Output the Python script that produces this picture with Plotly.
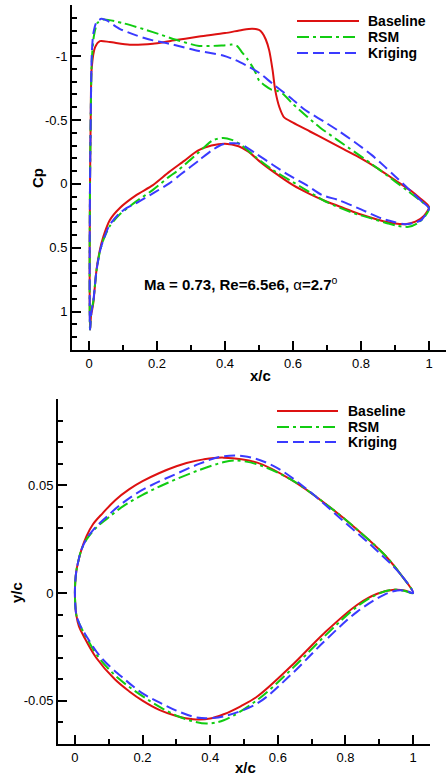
import plotly.graph_objects as go

# ---------------- data: Cp distributions (ordered TE-upper -> LE -> TE-lower)
base_cp_x = [1.0, 0.97, 0.95, 0.9, 0.85, 0.8, 0.75, 0.7, 0.65, 0.6, 0.574, 0.56, 0.548, 0.54, 0.53, 0.52, 0.51, 0.5, 0.48, 0.45, 0.4, 0.324, 0.236, 0.188, 0.12, 0.061, 0.032, 0.018, 0.008, 0.005, 0.003, 0.002, 0.002, 0.003,
             0.006, 0.009, 0.0126, 0.022, 0.032, 0.042, 0.061, 0.09, 0.139, 0.188, 0.236, 0.28, 0.32, 0.36, 0.4, 0.44, 0.47, 0.5, 0.55, 0.6, 0.65, 0.7, 0.75, 0.8, 0.85, 0.9, 0.93, 0.96, 0.985, 1.0]
base_cp = [0.18, 0.105, 0.06, -0.03, -0.12, -0.2, -0.27, -0.34, -0.41, -0.48, -0.52, -0.6, -0.73, -0.89, -1.045, -1.13, -1.18, -1.205, -1.215, -1.205, -1.18, -1.154, -1.117, -1.097, -1.089, -1.11, -1.117, -1.07, -0.91, -0.5, 0.0, 0.5, 0.9, 1.14,
           1.03, 0.99, 0.934, 0.674, 0.518, 0.414, 0.284, 0.19, 0.088, 0.01, -0.094, -0.18, -0.26, -0.3, -0.315, -0.295, -0.25, -0.18, -0.08, 0.01, 0.08, 0.14, 0.19, 0.24, 0.28, 0.31, 0.315, 0.295, 0.25, 0.18]

rsm_cp_x = [1.0, 0.97, 0.94, 0.9, 0.88, 0.83, 0.78, 0.73, 0.68, 0.64, 0.6, 0.57, 0.555, 0.535, 0.52, 0.5, 0.49, 0.48, 0.465, 0.45, 0.435, 0.42, 0.394, 0.324, 0.256, 0.188, 0.1, 0.042, 0.025, 0.014, 0.008, 0.005, 0.003, 0.002, 0.002, 0.003,
            0.006, 0.009, 0.0126, 0.022, 0.032, 0.042, 0.061, 0.09, 0.139, 0.188, 0.236, 0.256, 0.29, 0.324, 0.363, 0.394, 0.42, 0.45, 0.49, 0.54, 0.59, 0.64, 0.69, 0.74, 0.78, 0.83, 0.88, 0.91, 0.94, 0.965, 0.987, 1.0]
rsm_cp = [0.19, 0.122, 0.06, -0.02, -0.06, -0.158, -0.252, -0.345, -0.44, -0.53, -0.625, -0.705, -0.727, -0.74, -0.765, -0.81, -0.87, -0.92, -0.98, -1.03, -1.08, -1.09, -1.084, -1.08, -1.128, -1.188, -1.258, -1.287, -1.26, -1.15, -0.95, -0.5, 0.0, 0.5, 0.9, 1.14,
          1.03, 0.97, 0.92, 0.68, 0.53, 0.44, 0.33, 0.24, 0.137, 0.047, -0.057, -0.094, -0.17, -0.25, -0.34, -0.36, -0.345, -0.3, -0.21, -0.11, -0.03, 0.05, 0.13, 0.19, 0.23, 0.27, 0.31, 0.33, 0.336, 0.31, 0.258, 0.19]

krg_cp_x = [1.0, 0.98, 0.958, 0.93, 0.9, 0.87, 0.832, 0.78, 0.734, 0.69, 0.637, 0.59, 0.54, 0.5, 0.472, 0.43, 0.394, 0.324, 0.236, 0.188, 0.139, 0.09, 0.052, 0.037, 0.022, 0.0126, 0.008, 0.005, 0.003, 0.002, 0.002, 0.003,
            0.006, 0.009, 0.0126, 0.022, 0.032, 0.042, 0.061, 0.09, 0.11, 0.139, 0.188, 0.236, 0.27, 0.324, 0.36, 0.394, 0.443, 0.491, 0.54, 0.588, 0.64, 0.686, 0.734, 0.8, 0.86, 0.9, 0.929, 0.955, 0.977, 0.99, 1.0]
krg_cp = [0.19, 0.14, 0.085, 0.015, -0.06, -0.135, -0.225, -0.33, -0.415, -0.49, -0.576, -0.68, -0.784, -0.87, -0.914, -0.97, -1.005, -1.04, -1.097, -1.123, -1.162, -1.214, -1.279, -1.292, -1.266, -1.175, -1.0, -0.5, 0.0, 0.5, 0.9, 1.14,
          1.03, 0.97, 0.92, 0.68, 0.53, 0.44, 0.32, 0.23, 0.19, 0.15, 0.074, -0.004, -0.075, -0.185, -0.26, -0.31, -0.315, -0.237, -0.15, -0.068, 0.01, 0.088, 0.127, 0.2, 0.27, 0.3, 0.315, 0.305, 0.284, 0.24, 0.19]

# ---------------- data: airfoil geometry (TE-upper -> LE -> TE-lower)
base_xc = [1.0, 0.964, 0.914, 0.835, 0.737, 0.638, 0.539, 0.44, 0.38, 0.33, 0.3, 0.25, 0.2, 0.16, 0.12, 0.083, 0.053, 0.034, 0.019, 0.009, 0.004, 0.001, 0.0,
           0.001, 0.004, 0.012, 0.026, 0.063, 0.118, 0.16, 0.201, 0.251, 0.3, 0.349, 0.4, 0.44, 0.49, 0.539, 0.638, 0.737, 0.835, 0.894, 0.944, 0.975, 1.0]
base_yc = [0.0, 0.0085, 0.018, 0.0294, 0.0419, 0.0527, 0.0605, 0.0628, 0.062, 0.0603, 0.0588, 0.0557, 0.0519, 0.0481, 0.0432, 0.0372, 0.0318, 0.0263, 0.02, 0.014, 0.01, 0.005, 0.0,
           -0.005, -0.01, -0.0155, -0.02, -0.03, -0.04, -0.0455, -0.05, -0.0543, -0.057, -0.0585, -0.0582, -0.0562, -0.0525, -0.048, -0.0341, -0.0186, -0.0054, -0.0003, 0.0015, 0.0012, 0.0]

rsm_xc = [1.0, 0.964, 0.914, 0.835, 0.737, 0.638, 0.539, 0.47, 0.43, 0.37, 0.27, 0.2, 0.142, 0.095, 0.061, 0.035, 0.019, 0.009, 0.004, 0.001, 0.0,
          0.001, 0.004, 0.014, 0.032, 0.071, 0.132, 0.221, 0.27, 0.31, 0.35, 0.39, 0.44, 0.539, 0.638, 0.737, 0.835, 0.894, 0.934, 0.97, 1.0]
rsm_yc = [0.0, 0.0085, 0.018, 0.0294, 0.0419, 0.0527, 0.0597, 0.0615, 0.0603, 0.0572, 0.0508, 0.0455, 0.0402, 0.0345, 0.03, 0.025, 0.02, 0.014, 0.01, 0.005, 0.0,
          -0.005, -0.01, -0.0145, -0.02, -0.03, -0.04, -0.05, -0.0545, -0.0575, -0.0595, -0.0605, -0.059, -0.0496, -0.0357, -0.0202, -0.0062, -0.0005, 0.0015, 0.0012, 0.0]

krg_xc = [1.0, 0.964, 0.884, 0.786, 0.687, 0.588, 0.5, 0.43, 0.369, 0.3, 0.226, 0.175, 0.127, 0.09, 0.058, 0.034, 0.019, 0.009, 0.004, 0.001, 0.0,
          0.001, 0.004, 0.014, 0.034, 0.078, 0.147, 0.2, 0.251, 0.3, 0.349, 0.375, 0.4, 0.44, 0.539, 0.638, 0.737, 0.835, 0.914, 0.953, 0.98, 1.0]
krg_yc = [0.0, 0.0085, 0.021, 0.0345, 0.048, 0.0589, 0.0635, 0.0632, 0.06, 0.0553, 0.05, 0.0455, 0.04, 0.0348, 0.03, 0.025, 0.02, 0.014, 0.01, 0.005, 0.0,
          -0.005, -0.01, -0.0145, -0.02, -0.03, -0.04, -0.0465, -0.0508, -0.0545, -0.0573, -0.058, -0.058, -0.0572, -0.0512, -0.038, -0.0225, -0.0086, -0.0008, 0.0012, 0.001, 0.0]

series_names = ["Baseline", "RSM", "Kriging"]

cp_ticks = [-1, -0.5, 0, 0.5, 1]
cp_ticktext = ["-1", "-0.5", "0", "0.5", "1"]
yc_ticks = [-0.05, 0, 0.05]
yc_ticktext = ["-0.05", "0", "0.05"]
x_ticks = [0, 0.2, 0.4, 0.6, 0.8, 1]
x_ticktext = ["0", "0.2", "0.4", "0.6", "0.8", "1"]

# ---------------- styles
W, H = 448, 775
colors = ["#dd1111", "#11cc11", "#3a3aff"]
dashes = ["solid", "12px,4px,3px,4px", "11px,5px"]
FONT = "Liberation Sans, Arial, sans-serif"

def px_x(p):
    return p / W

def px_y(p):
    return 1 - p / H

fig = go.Figure()

cp_data = [(base_cp_x, base_cp), (rsm_cp_x, rsm_cp), (krg_cp_x, krg_cp)]
geo_data = [(base_xc, base_yc), (rsm_xc, rsm_yc), (krg_xc, krg_yc)]

for i, (xs, ys) in enumerate(cp_data):
    fig.add_trace(go.Scatter(x=xs, y=ys, mode="lines", name=series_names[i],
                             line=dict(color=colors[i], width=2, dash=dashes[i], shape="spline", smoothing=0.7),
                             xaxis="x", yaxis="y", showlegend=False))
for i, (xs, ys) in enumerate(geo_data):
    fig.add_trace(go.Scatter(x=xs, y=ys, mode="lines", name=series_names[i],
                             line=dict(color=colors[i], width=2, dash=dashes[i], shape="spline", smoothing=1.0),
                             xaxis="x2", yaxis="y2", showlegend=False))

axis_common = dict(showline=True, linewidth=2, linecolor="black", showgrid=False, zeroline=False,
                   ticks="inside", ticklen=9, tickwidth=2, tickcolor="black",
                   tickfont=dict(family=FONT, size=13, color="black"))
minor_common = dict(tickmode="linear", tick0=0, ticks="inside", ticklen=5, tickwidth=1.5, tickcolor="black")

fig.update_layout(
    width=W, height=H, margin=dict(l=0, r=0, t=0, b=0),
    paper_bgcolor="white", plot_bgcolor="white", showlegend=False,
    xaxis=dict(domain=[px_x(72), px_x(446)], range=[-0.05, 1.05], anchor="y",
               tickmode="array", tickvals=x_ticks, ticktext=x_ticktext,
               minor=dict(dtick=0.1, **minor_common), **axis_common),
    yaxis=dict(domain=[px_y(350), px_y(5)], range=[1.3, -1.4], anchor="x",
               tickmode="array", tickvals=cp_ticks, ticktext=cp_ticktext,
               minor=dict(dtick=0.1, **minor_common), **axis_common),
    xaxis2=dict(domain=[px_x(58), px_x(430)], range=[-0.05, 1.05], anchor="y2",
                tickmode="array", tickvals=x_ticks, ticktext=x_ticktext,
                minor=dict(dtick=0.1, **minor_common), **axis_common),
    yaxis2=dict(domain=[px_y(744), px_y(399)], range=[-0.07, 0.09], anchor="x2",
                tickmode="array", tickvals=yc_ticks, ticktext=yc_ticktext,
                minor=dict(dtick=0.01, **minor_common), **axis_common),
)

annotations = []
shapes = []

def bold_text(txt, x, y, size=15, angle=0, xanchor="center"):
    annotations.append(dict(text="<b>%s</b>" % txt, x=px_x(x), y=px_y(y), xref="paper", yref="paper",
                            showarrow=False, xanchor=xanchor, yanchor="middle", textangle=angle,
                            font=dict(family=FONT, size=size, color="black")))

bold_text("Cp", 37, 178, angle=-90)
bold_text("x/c", 260, 375)
bold_text("y/c", 16, 593, angle=-90)
bold_text("x/c", 245, 767)

annotations.append(dict(text="<b>Ma = 0.73, Re=6.5e6, </b>α<b>=2.7</b><sup>o</sup>",
                        x=px_x(241), y=px_y(283), xref="paper", yref="paper", showarrow=False,
                        xanchor="center", yanchor="middle",
                        font=dict(family=FONT, size=15, color="black")))

def legend(x0, x1, xt, ys):
    for i, yy in enumerate(ys):
        shapes.append(dict(type="line", xref="paper", yref="paper", x0=px_x(x0), x1=px_x(x1),
                           y0=px_y(yy), y1=px_y(yy), line=dict(color=colors[i], width=2, dash=dashes[i])))
        bold_text(series_names[i], xt, yy, size=14, xanchor="left")

legend(297, 359, 366, [21, 37, 53])
legend(277, 338, 346, [411, 427, 442])

fig.update_layout(annotations=annotations, shapes=shapes)
fig.write_html("out.html")
